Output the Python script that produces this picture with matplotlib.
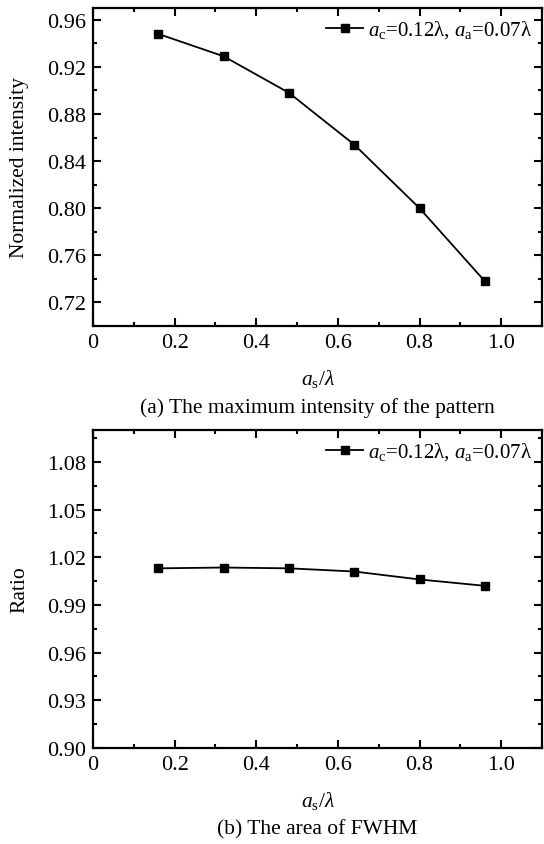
import matplotlib
matplotlib.use("Agg")
import matplotlib.pyplot as plt
from matplotlib.ticker import MultipleLocator, FuncFormatter

plt.rcParams['font.family'] = ['Liberation Serif', 'DejaVu Serif']
plt.rcParams['mathtext.fontset'] = 'custom'
plt.rcParams['mathtext.rm'] = 'Liberation Serif'
plt.rcParams['mathtext.it'] = 'Liberation Serif:italic'
plt.rcParams['mathtext.bf'] = 'Liberation Serif:bold'

x_vals = [0.16, 0.32, 0.48, 0.64, 0.80, 0.96]
intensity = [0.948, 0.929, 0.898, 0.854, 0.800, 0.738]
ratio = [1.013, 1.0135, 1.013, 1.011, 1.006, 1.002]
legend_label = r'$a_\mathrm{c}$=0.12λ, $a_\mathrm{a}$=0.07λ'
xlabel = r'$a_\mathrm{s}/\lambda$'
ylabels = ['Normalized intensity', 'Ratio']
captions = ['(a) The maximum intensity of the pattern', '(b) The area of FWHM']

W, H = 544, 845
fig = plt.figure(figsize=(W/100, H/100), dpi=100)

def box(l, t, r, b):
    return [l/W, 1-b/H, (r-l)/W, (b-t)/H]

ax1 = fig.add_axes(box(93, 9, 542, 327))
ax2 = fig.add_axes(box(93, 431, 542, 749))

tfs = 16
lfs = 15.5
for ax, y, yl, ylim, ymaj, ymin, yfmt in [
        (ax1, intensity, ylabels[0], (0.70, 0.97), 0.04, 0.02, '%.2f'),
        (ax2, ratio, ylabels[1], (0.90, 1.10), 0.03, 0.015, '%.2f')]:
    ax.plot(x_vals, y, color='black', lw=1.3, marker='s', ms=6, label=legend_label)
    ax.set_xlim(0, 1.1)
    ax.set_ylim(*ylim)
    ax.xaxis.set_major_locator(MultipleLocator(0.2))
    ax.xaxis.set_minor_locator(MultipleLocator(0.1))
    ax.yaxis.set_major_locator(MultipleLocator(ymaj))
    ax.yaxis.set_minor_locator(MultipleLocator(ymin))
    ax.xaxis.set_major_formatter(FuncFormatter(lambda v, p: '0' if abs(v) < 1e-9 else '%.1f' % v))
    ax.yaxis.set_major_formatter(FuncFormatter(lambda v, p, f=yfmt: f % v))
    ax.tick_params(which='both', direction='in', top=True, right=True, labelsize=tfs, width=1.5)
    ax.tick_params(which='major', length=6, pad=5)
    ax.tick_params(which='minor', length=3)
    for s in ax.spines.values():
        s.set_linewidth(1.6)
    ax.set_ylabel(yl, fontsize=lfs, labelpad=13)
    ax.set_xlabel(xlabel, fontsize=lfs, labelpad=11)
    ax.legend(loc='upper right', frameon=False, fontsize=15, handlelength=1.8,
              handletextpad=0.2, borderaxespad=0.1)

fig.text(317/W, 1-408/H, captions[0], ha='center', va='center', fontsize=lfs)
fig.text(317/W, 1-830/H, captions[1], ha='center', va='center', fontsize=lfs)

fig.savefig('out.png', dpi=100)
